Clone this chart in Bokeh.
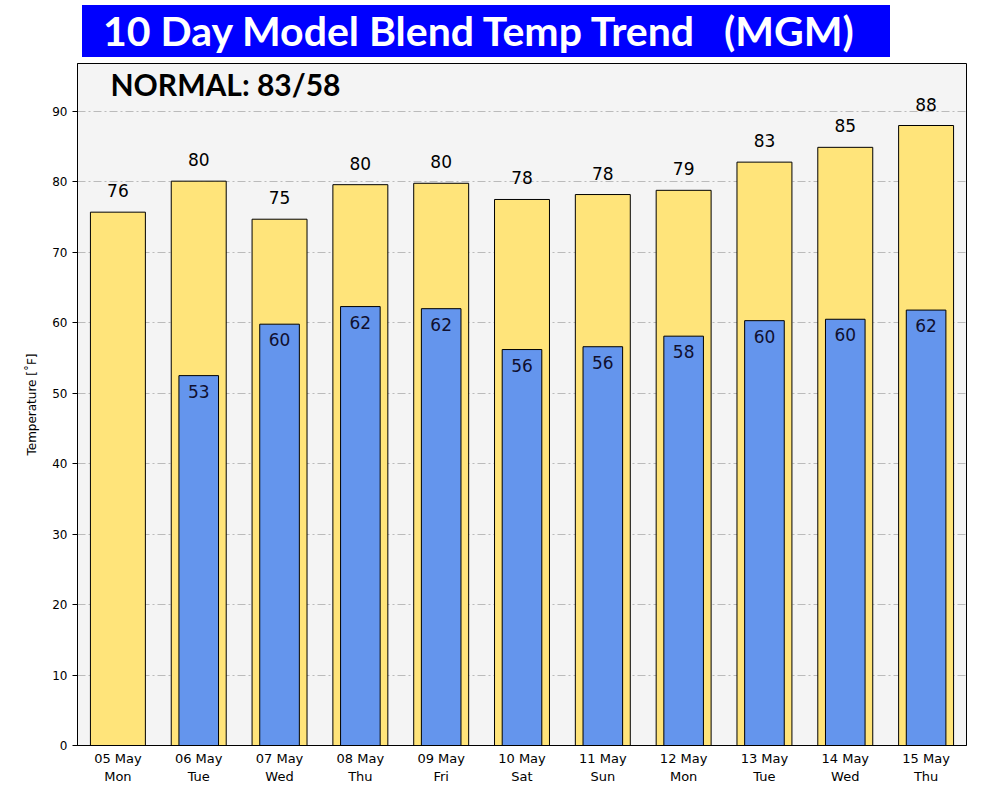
from bokeh.plotting import figure
from bokeh.models import ColumnDataSource, Label, LabelSet, Range1d, FixedTicker, Div
from bokeh.layouts import column
from bokeh.core.properties import value
from bokeh.embed import file_html
from bokeh.resources import INLINE

days = ["05 May\nMon", "06 May\nTue", "07 May\nWed", "08 May\nThu", "09 May\nFri",
        "10 May\nSat", "11 May\nSun", "12 May\nMon", "13 May\nTue", "14 May\nWed", "15 May\nThu"]
highs = [75.7, 80.1, 74.7, 79.6, 79.8, 77.5, 78.2, 78.8, 82.8, 84.9, 88.0]
high_labels = ["76", "80", "75", "80", "80", "78", "78", "79", "83", "85", "88"]
low_days = days[1:]
lows = [52.5, 59.8, 62.3, 62.0, 56.2, 56.6, 58.1, 60.3, 60.5, 61.8]
low_labels = ["53", "60", "62", "62", "56", "56", "58", "60", "60", "62"]
y_ticks = [0, 10, 20, 30, 40, 50, 60, 70, 80, 90]
title_text = "10 Day Model Blend Temp Trend &nbsp;&nbsp;(MGM)"
normal_text = "NORMAL:  83/58"

title = Div(text=title_text, width=808, height=52, margin=(5, 0, 0, 82),
            styles={"background-color": "#0000FF", "color": "white",
                    "font-family": "Lato", "font-weight": "bold", "font-size": "41px",
                    "line-height": "52px", "padding-left": "21px", "white-space": "nowrap",
                    "box-sizing": "border-box", "overflow": "hidden"})

p = figure(x_range=days, width=976, height=740, output_backend="svg",
           toolbar_location=None, title=None,
           min_border_left=77, min_border_right=10, min_border_top=6, min_border_bottom=52)
p.y_range = Range1d(0, 96.8)
p.background_fill_color = "#f4f4f4"
p.border_fill_color = "white"
p.outline_line_color = "black"
p.outline_line_width = 1
p.outline_line_alpha = 1

hs = ColumnDataSource(dict(x=days, top=highs, lab=high_labels))
ls = ColumnDataSource(dict(x=low_days, top=lows, lab=low_labels))

p.vbar(x="x", top="top", bottom=0, width=0.68, source=hs,
       fill_color="#FFE47A", line_color="black", line_width=1)
p.vbar(x="x", top="top", bottom=0, width=0.49, source=ls,
       fill_color="#6495ED", line_color="black", line_width=1)

p.add_layout(LabelSet(x="x", y="top", text="lab", source=hs, text_align="center",
                      text_baseline="alphabetic", y_offset=15, text_font=value("DejaVu Sans"),
                      text_font_size=value("17px"), text_color=value("black")))
p.add_layout(LabelSet(x="x", y="top", text="lab", source=ls, text_align="center",
                      text_baseline="alphabetic", y_offset=-22, text_font=value("DejaVu Sans"),
                      text_font_size=value("17px"), text_color=value("#101030")))

p.xgrid.grid_line_color = None
p.ygrid.grid_line_color = "#bbbbbb"
p.ygrid.grid_line_dash = "8 3 2 3"
p.ygrid.grid_line_width = 1
p.yaxis.ticker = FixedTicker(ticks=y_ticks)
p.yaxis.axis_label = "Temperature [˚F]"
p.yaxis.axis_label_text_font = "DejaVu Sans"
p.yaxis.axis_label_text_font_style = "normal"
p.yaxis.axis_label_text_font_size = "12px"
p.yaxis.axis_label_text_color = "black"
p.yaxis.axis_label_standoff = 10
p.yaxis.major_label_text_font = "DejaVu Sans"
p.yaxis.major_label_text_font_size = "12px"
p.yaxis.major_tick_out = 5
p.yaxis.major_tick_in = 0
p.yaxis.minor_tick_line_color = None
p.yaxis.axis_line_color = "black"
p.xaxis.major_label_text_font = "DejaVu Sans"
p.xaxis.major_label_text_font_size = "13px"
p.xaxis.major_tick_line_color = None
p.xaxis.major_tick_out = 0
p.xaxis.major_tick_in = 0
p.xaxis.major_label_standoff = 5
p.xaxis.axis_line_color = "black"
for ax in (p.xaxis, p.yaxis):
    ax.major_label_text_color = "black"

normal = Label(x=33, y=680, x_units="screen", y_units="screen", text=normal_text,
               text_align="left", text_baseline="top", text_font="Lato",
               text_font_style="bold", text_font_size="30px", text_color="black")
p.add_layout(normal)

layout = column(title, p, spacing=0)
open("out.html", "w").write(file_html(layout, INLINE))
